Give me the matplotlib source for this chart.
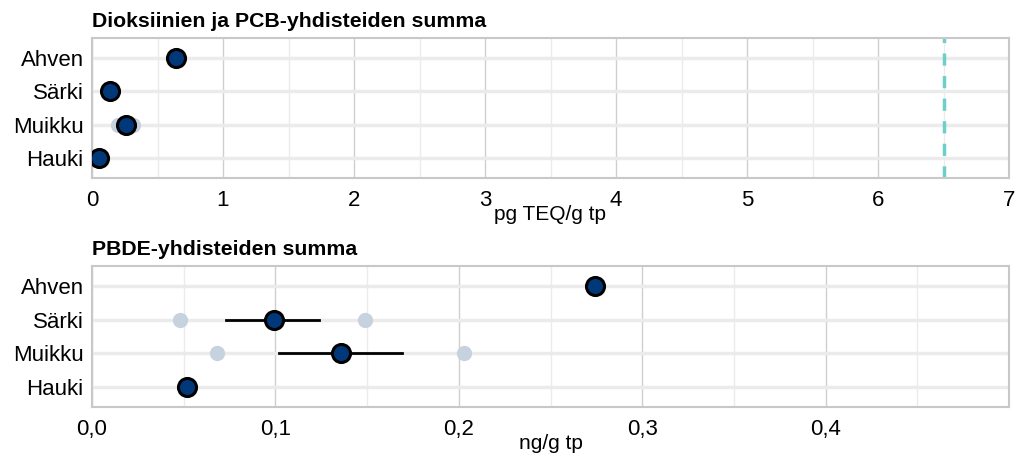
import numpy as np
import matplotlib.pyplot as plt
from matplotlib.ticker import FixedLocator, FuncFormatter

plt.rcParams['font.family'] = ['Liberation Sans', 'DejaVu Sans']

species = ["Ahven", "Särki", "Muikku", "Hauki"]

# Dioksiinit + PCB, pg TEQ/g tp
diox_mean = [0.64, 0.137, 0.26, 0.05]
diox_low = [None, None, 0.20, None]
diox_high = [None, None, 0.31, None]
diox_limit = 6.5

# PBDE, ng/g tp
pbde_mean = [0.274, 0.099, 0.136, 0.052]
pbde_err_lo = [None, 0.073, 0.102, None]
pbde_err_hi = [None, 0.124, 0.169, None]
pbde_low = [None, 0.048, 0.068, None]
pbde_high = [None, 0.149, 0.203, None]

fill = "#00387a"
faded = "#c7d2df"


def style_axes(ax, xmax, major, minor, fmt):
    ax.set_xlim(0, xmax)
    ax.set_ylim(4.6, 0.4)
    ax.set_yticks(range(1, 5))
    ax.set_yticklabels(species)
    ax.xaxis.set_major_locator(FixedLocator(major))
    ax.xaxis.set_minor_locator(FixedLocator(minor))
    ax.xaxis.set_major_formatter(FuncFormatter(fmt))
    ax.grid(which="major", axis="x", color="#cfcfcf", lw=1.0, zorder=0)
    ax.grid(which="minor", axis="x", color="#ebebeb", lw=1.0, zorder=0)
    ax.grid(which="major", axis="y", color="#ebebeb", lw=2.5, zorder=0)
    ax.tick_params(axis="both", which="both", length=0, labelsize=16, pad=6)
    ax.tick_params(axis="x", pad=9)
    for s in ax.spines.values():
        s.set_color("#c8c8c8")
        s.set_linewidth(1.5)
    ax.set_axisbelow(True)


fig = plt.figure(figsize=(10.17, 4.57), dpi=100)
ax1 = fig.add_axes([92 / 1017, 1 - 178 / 457, 917 / 1017, 140 / 457])
ax2 = fig.add_axes([92 / 1017, 1 - 407 / 457, 917 / 1017, 141 / 457])

y = np.arange(1, 5)

# top panel
style_axes(ax1, 7, range(0, 8), np.arange(0.5, 7, 1),
           lambda v, p: f"{v:.0f}")
for i in range(4):
    if diox_low[i] is not None:
        ax1.plot([diox_low[i], diox_high[i]], [y[i], y[i]], "o",
                 color=faded, ms=11, mec="none", zorder=2)
ax1.axvline(diox_limit, color="#6dd0c8", lw=2.5, ls=(0, (3.5, 3)), zorder=2)
ax1.plot(diox_mean, y, "o", ms=13, mfc=fill, mec="black", mew=2.2,
         ls="none", zorder=4)
ax1.set_xlabel("pg TEQ/g tp", fontsize=15, labelpad=-5)
ax1.set_title("Dioksiinien ja PCB-yhdisteiden summa", loc="left",
              fontsize=15.3, fontweight="bold", pad=8)

# bottom panel
style_axes(ax2, 0.5, np.arange(0, 0.45, 0.1), np.arange(0.05, 0.5, 0.1),
           lambda v, p: f"{v:.1f}".replace(".", ","))
for i in range(4):
    if pbde_low[i] is not None:
        ax2.plot([pbde_low[i], pbde_high[i]], [y[i], y[i]], "o",
                 color=faded, ms=11, mec="none", zorder=2)
        ax2.plot([pbde_err_lo[i], pbde_err_hi[i]], [y[i], y[i]],
                 color="black", lw=2, zorder=3)
ax2.plot(pbde_mean, y, "o", ms=13, mfc=fill, mec="black", mew=2.2,
         ls="none", zorder=4)
ax2.set_xlabel("ng/g tp", fontsize=15, labelpad=-5)
ax2.set_title("PBDE-yhdisteiden summa", loc="left",
              fontsize=15.3, fontweight="bold", pad=8)

fig.savefig("out.png", dpi=100)
